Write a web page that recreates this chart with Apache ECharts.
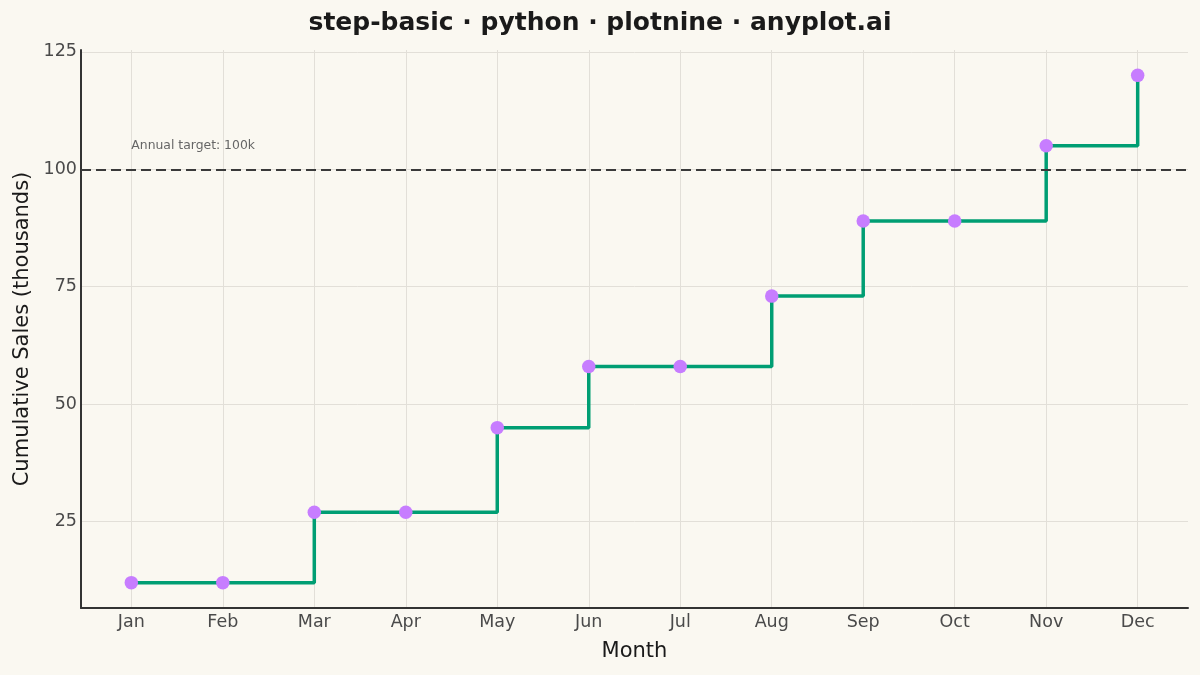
<!DOCTYPE html>
<html>
<head>
<meta charset="utf-8">
<script src="https://cdn.jsdelivr.net/npm/echarts@6/dist/echarts.min.js"></script>
<style>
  html, body { margin: 0; padding: 0; background: #faf8f1; }
  #main { width: 1200px; height: 675px; }
</style>
</head>
<body>
<div id="main"></div>
<script>
var months = ['Jan', 'Feb', 'Mar', 'Apr', 'May', 'Jun', 'Jul', 'Aug', 'Sep', 'Oct', 'Nov', 'Dec'];
var sales = [12, 12, 27, 27, 45, 58, 58, 73, 89, 89, 105, 120];
var yTicks = [25, 50, 75, 100, 125];
var target = 100;
var targetLabel = 'Annual target: 100k';

drawStep();

function drawStep() {
    var myChart = echarts.init(document.getElementById('main'));
    var monthIdx = months.map(function (m, i) { return i; });
    var points = sales.map(function (v, i) { return [i, v]; });

    var option = {
        backgroundColor: '#faf8f1',
        animation: false,
        textStyle: { fontFamily: 'DejaVu Sans' },
        title: {
            text: 'step-basic · python · plotnine · anyplot.ai',
            left: 'center',
            top: 6,
            textStyle: { fontSize: 25, fontWeight: 'bold', color: '#1a1a1a', fontFamily: 'DejaVu Sans' }
        },
        grid: { left: 81, right: 12, top: 50, bottom: 67 },
        xAxis: {
            type: 'value',
            min: -0.55,
            max: 11.55,
            name: 'Month',
            nameLocation: 'middle',
            nameGap: 33,
            nameTextStyle: { fontSize: 21, color: '#1a1a1a' },
            axisLine: { show: true, onZero: false, lineStyle: { color: '#333', width: 2 } },
            axisTick: { show: false, customValues: monthIdx },
            axisLabel: {
                customValues: monthIdx,
                fontSize: 17.5, color: '#4a4a4a', margin: 5,
                formatter: function (v) { return months[Math.round(v)]; }
            },
            splitLine: { show: true, lineStyle: { color: '#e2dfd8', width: 1 } }
        },
        yAxis: {
            type: 'value',
            min: 6.6,
            max: 125.4,
            name: 'Cumulative Sales (thousands)',
            nameLocation: 'middle',
            nameGap: 47,
            nameTextStyle: { fontSize: 21, color: '#1a1a1a' },
            axisLine: { show: true, onZero: false, lineStyle: { color: '#333', width: 2 } },
            axisTick: { show: false, customValues: yTicks },
            axisLabel: { customValues: yTicks, fontSize: 17.5, color: '#4a4a4a', margin: 4 },
            splitLine: { show: true, lineStyle: { color: '#e2dfd8', width: 1 } }
        },
        series: [
            {
                name: 'Cumulative Sales',
                type: 'line',
                step: 'end',
                data: points,
                symbol: 'circle',
                symbolSize: 13.5,
                showSymbol: true,
                lineStyle: { color: '#009e73', width: 3.5 },
                itemStyle: { color: '#c77dff' },
                z: 3,
                markLine: {
                    silent: true,
                    symbol: 'none',
                    lineStyle: { color: '#3a3a3a', type: [10, 5], width: 2 },
                    label: { show: false },
                    data: [{ yAxis: target }]
                },
                markPoint: {
                    silent: true,
                    symbol: 'circle',
                    symbolSize: 0,
                    label: {
                        show: true,
                        position: 'right',
                        distance: 0,
                        formatter: targetLabel,
                        fontSize: 12.4,
                        color: '#666'
                    },
                    data: [{ coord: [0, 105] }]
                }
            }
        ]
    };

    myChart.setOption(option);
}
</script>
</body>
</html>
